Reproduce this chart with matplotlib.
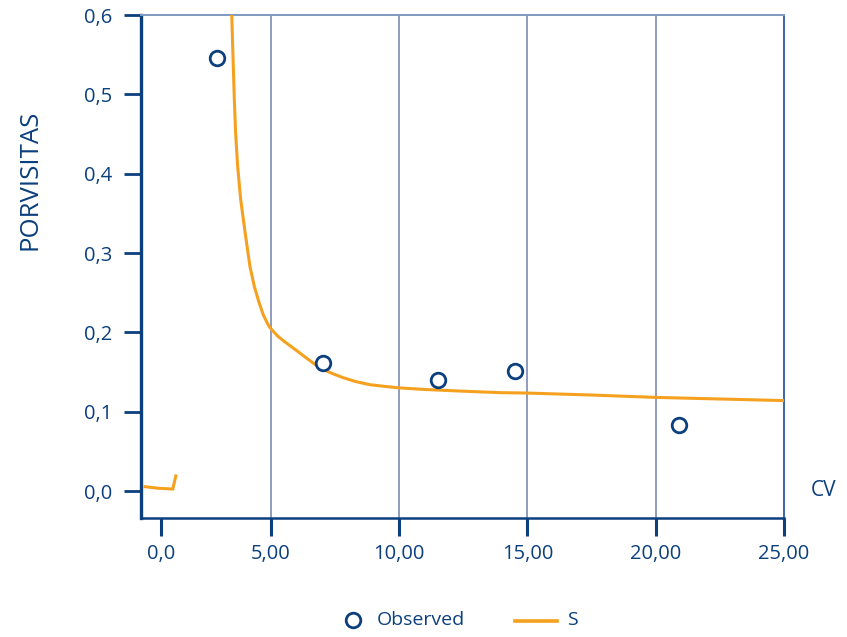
import matplotlib
matplotlib.use("Agg")
import matplotlib.pyplot as plt
from matplotlib.lines import Line2D

# ---- data ----
obs_cv = [2.88, 7.02, 11.51, 14.51, 20.9]
obs_por = [0.546, 0.161, 0.140, 0.151, 0.083]

# S-model curve, lower (artifact) piece near zero
s_lo_cv = [0.09, 0.6, 1.17, 1.29]
s_lo_val = [0.0055, 0.0035, 0.0025, 0.019]

# S-model curve, main piece
s_cv = [3.47, 3.51, 3.57, 3.62, 3.70, 3.82, 3.99, 4.18, 4.35, 4.53, 4.70, 4.85,
        4.96, 5.04, 5.27, 5.50, 5.75, 6.0, 6.45, 6.91, 7.4, 7.8, 8.3, 8.86,
        9.4, 10.0, 11.0, 12.37, 13.93, 14.98, 17.5, 20.0, 22.5, 25.0]
s_val = [0.601, 0.556, 0.494, 0.452, 0.409, 0.367, 0.326, 0.283, 0.258, 0.238,
         0.222, 0.212, 0.206, 0.203, 0.195, 0.189, 0.183, 0.177, 0.166, 0.155,
         0.148, 0.143, 0.138, 0.134, 0.132, 0.130, 0.128, 0.126, 0.124, 0.1235,
         0.121, 0.118, 0.116, 0.114]

xtick_pos = [0.71, 5, 10, 15, 20, 25]
xtick_lab = ["0,0", "5,00", "10,00", "15,00", "20,00", "25,00"]
ytick_pos = [0.0, 0.1, 0.2, 0.3, 0.4, 0.5, 0.6]
ytick_lab = ["0,0", "0,1", "0,2", "0,3", "0,4", "0,5", "0,6"]

# ---- style ----
W, H = 847, 637
DPI = 100
navy = "#0b3f7d"
orange = "#f5a11f"
gridc = "#8794b8"
plt.rcParams['font.family'] = ['Open Sans', 'DejaVu Sans']

fig = plt.figure(figsize=(W / DPI, H / DPI), dpi=DPI)
ax = fig.add_axes([141 / W, 1 - 518 / H, (784 - 141) / W, (518 - 15) / H])

ax.set_xlim(-0.068, 25.0)
ax.set_ylim(-0.034, 0.6)

for xv in [5, 10, 15, 20]:
    ax.axvline(xv, color=gridc, lw=1.3, zorder=1)

ax.plot(s_lo_cv, s_lo_val, color=orange, lw=2.2, zorder=3, solid_joinstyle='miter')
ax.plot(s_cv, s_val, color=orange, lw=2.2, zorder=3, solid_joinstyle='round')
ax.plot(obs_cv, obs_por, linestyle='none', marker='o', markersize=10.5,
        markerfacecolor='white', markeredgecolor=navy, markeredgewidth=2.0,
        zorder=4, clip_on=False)

ax.spines['left'].set_color(navy)
ax.spines['left'].set_linewidth(2.4)
ax.spines['bottom'].set_color(navy)
ax.spines['bottom'].set_linewidth(1.8)
ax.spines['right'].set_color("#3b66a3")
ax.spines['right'].set_linewidth(1.4)
ax.spines['top'].set_color("#7f9ac0")
ax.spines['top'].set_linewidth(1.4)

ax.set_xticks(xtick_pos)
ax.set_xticklabels(xtick_lab)
ax.set_yticks(ytick_pos)
ax.set_yticklabels(ytick_lab)
ax.tick_params(axis='x', direction='out', length=13, width=2.2, color=navy,
               labelcolor=navy, labelsize=14.5, pad=6)
ax.tick_params(axis='y', direction='out', length=12.5, width=2.0, color=navy,
               labelcolor=navy, labelsize=14.5, pad=8)

fig.text(30 / W, 1 - 180 / H, "PORVISITAS", rotation=90, ha='center', va='center',
         color=navy, fontsize=18.5)
fig.text(824 / W, 1 - 490 / H, "CV", ha='center', va='center', color=navy, fontsize=15)

# legend
fig.add_artist(Line2D([353 / W], [1 - 620 / H], transform=fig.transFigure,
                      marker='o', markersize=10.5, markerfacecolor='white',
                      markeredgecolor=navy, markeredgewidth=2.0, linestyle='none'))
fig.text(377 / W, 1 - 620 / H, "Observed", ha='left', va='center', color=navy, fontsize=14)
fig.add_artist(Line2D([515 / W, 557 / W], [1 - 621 / H, 1 - 621 / H],
                      transform=fig.transFigure, color=orange, lw=2.6))
fig.text(567 / W, 1 - 620 / H, "S", ha='left', va='center', color=navy, fontsize=14)

fig.savefig("out.png", dpi=DPI)
